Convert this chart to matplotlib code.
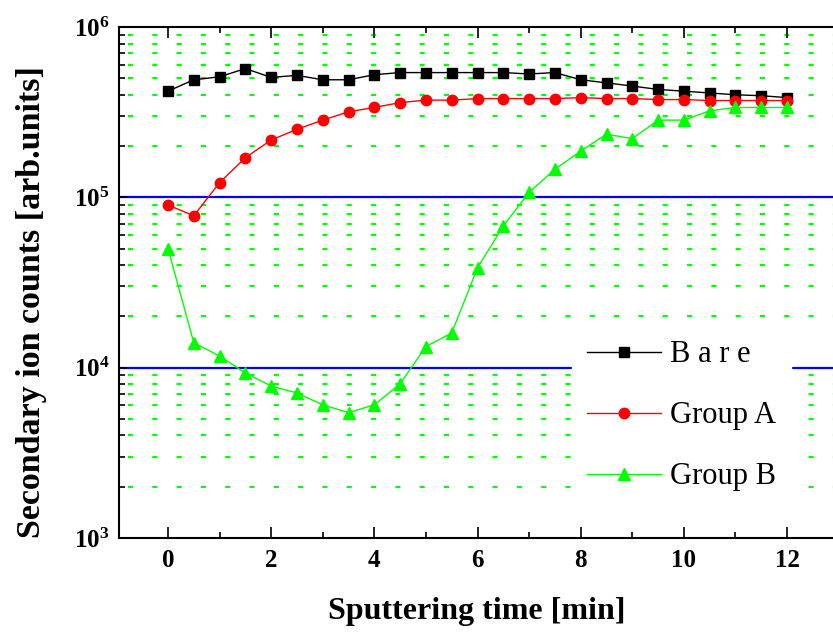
import numpy as np
import matplotlib
matplotlib.use("Agg")
import matplotlib.pyplot as plt
from matplotlib.ticker import FixedLocator, FixedFormatter, LogLocator, NullFormatter

# ------ DANE ------
czas = np.arange(0, 12.5, 0.5)  # czas rozpylania [min]

bare = [4.2e5, 4.9e5, 5.1e5, 5.7e5, 5.06e5, 5.2e5, 4.9e5, 4.9e5, 5.25e5, 5.4e5,
        5.4e5, 5.4e5, 5.4e5, 5.4e5, 5.3e5, 5.4e5, 4.9e5, 4.7e5, 4.5e5, 4.3e5,
        4.2e5, 4.1e5, 4.0e5, 3.95e5, 3.85e5]
group_a = [9.0e4, 7.8e4, 1.22e5, 1.71e5, 2.17e5, 2.51e5, 2.84e5, 3.18e5, 3.37e5, 3.6e5,
           3.72e5, 3.72e5, 3.8e5, 3.8e5, 3.8e5, 3.8e5, 3.85e5, 3.8e5, 3.8e5, 3.75e5,
           3.75e5, 3.7e5, 3.7e5, 3.7e5, 3.7e5]
group_b = [5.0e4, 1.4e4, 1.17e4, 9.3e3, 7.8e3, 7.1e3, 6.05e3, 5.45e3, 6.05e3, 8.05e3,
           1.33e4, 1.6e4, 3.86e4, 6.8e4, 1.07e5, 1.46e5, 1.87e5, 2.35e5, 2.21e5, 2.84e5,
           2.84e5, 3.22e5, 3.37e5, 3.37e5, 3.37e5]

labels = ["B a r e", "Group A", "Group B"]
x_ticks = [0, 2, 4, 6, 8, 10, 12]
y_ticks = [1e3, 1e4, 1e5, 1e6]
y_tick_labels = [r"$\mathbf{10^{3}}$", r"$\mathbf{10^{4}}$", r"$\mathbf{10^{5}}$", r"$\mathbf{10^{6}}$"]

# ------ STYL ------
plt.rcParams["font.family"] = ["Liberation Serif", "DejaVu Serif"]
plt.rcParams["mathtext.fontset"] = "custom"
plt.rcParams["mathtext.rm"] = "Liberation Serif"
plt.rcParams["mathtext.bf"] = "Liberation Serif:bold"
plt.rcParams["lines.scale_dashes"] = False

fig = plt.figure(figsize=(8.33, 6.33), dpi=100)
ax = fig.add_axes([119 / 833, 95 / 633, 714 / 833, 511 / 633])

ax.set_yscale("log")
ax.set_xlim(-0.95, 12.89)
ax.set_ylim(1e3, 1e6)

# zielona siatka kropkowana na podziałkach pomocniczych
minor_y = [k * 10.0 ** n for n in (3, 4, 5) for k in range(2, 10)]
for yv in minor_y:
    ax.axhline(yv, color="#00ff00", linewidth=1.6,
               linestyle=(11.0, (3.6, 13.9)), zorder=1)
# niebieskie linie na dekadach
for yv in (1e4, 1e5):
    ax.axhline(yv, color="#0000ff", linewidth=1.6, zorder=1)

ax.plot(czas, bare, color="black", linewidth=1.0, marker="s", markersize=6.5,
        label=labels[0], zorder=3)
ax.plot(czas, group_a, color="#ff0000", linewidth=1.0, marker="o", markersize=7.5,
        label=labels[1], zorder=3)
ax.plot(czas, group_b, color="#00ff00", linewidth=1.0, marker="^", markersize=9,
        label=labels[2], zorder=3)

# osie
for side in ("left", "bottom", "top"):
    ax.spines[side].set_linewidth(1.5)
ax.spines["right"].set_visible(False)

ax.xaxis.set_major_locator(FixedLocator(x_ticks))
ax.xaxis.set_minor_locator(FixedLocator([1, 3, 5, 7, 9, 11]))
ax.yaxis.set_major_locator(FixedLocator(y_ticks))
ax.yaxis.set_major_formatter(FixedFormatter(y_tick_labels))
ax.yaxis.set_minor_locator(LogLocator(base=10, subs=np.arange(2, 10)))
ax.yaxis.set_minor_formatter(NullFormatter())

ax.tick_params(axis="x", which="major", direction="in", length=8, width=1.2,
               top=True, labelsize=18, pad=8)
ax.tick_params(axis="x", which="minor", direction="in", length=4, width=1.2, top=True)
ax.tick_params(axis="y", which="major", direction="in", length=6, width=1.2,
               labelsize=18, pad=7)
ax.tick_params(axis="y", which="minor", direction="in", length=4, width=1.2)
for t in ax.get_xticklabels():
    t.set_fontweight("bold")

ax.set_xlabel("Sputtering time [min]", fontsize=23, fontweight="bold")
ax.set_ylabel("Secondary ion counts [arb.units]", fontsize=24.5, fontweight="bold")
ax.yaxis.set_label_coords(-0.101, 0.462)
ax.xaxis.set_label_coords(0.501, -0.115)

leg = ax.legend(loc="upper left", bbox_to_anchor=(572 / 833, 1 - 325 / 633),
                bbox_transform=fig.transFigure, fontsize=22, frameon=True,
                fancybox=False, edgecolor="white", facecolor="white", framealpha=1,
                handlelength=2.4, handletextpad=0.3, labelspacing=1.05,
                borderpad=0.5, borderaxespad=0)
leg.set_zorder(5)

fig.savefig("out.png", dpi=100)
